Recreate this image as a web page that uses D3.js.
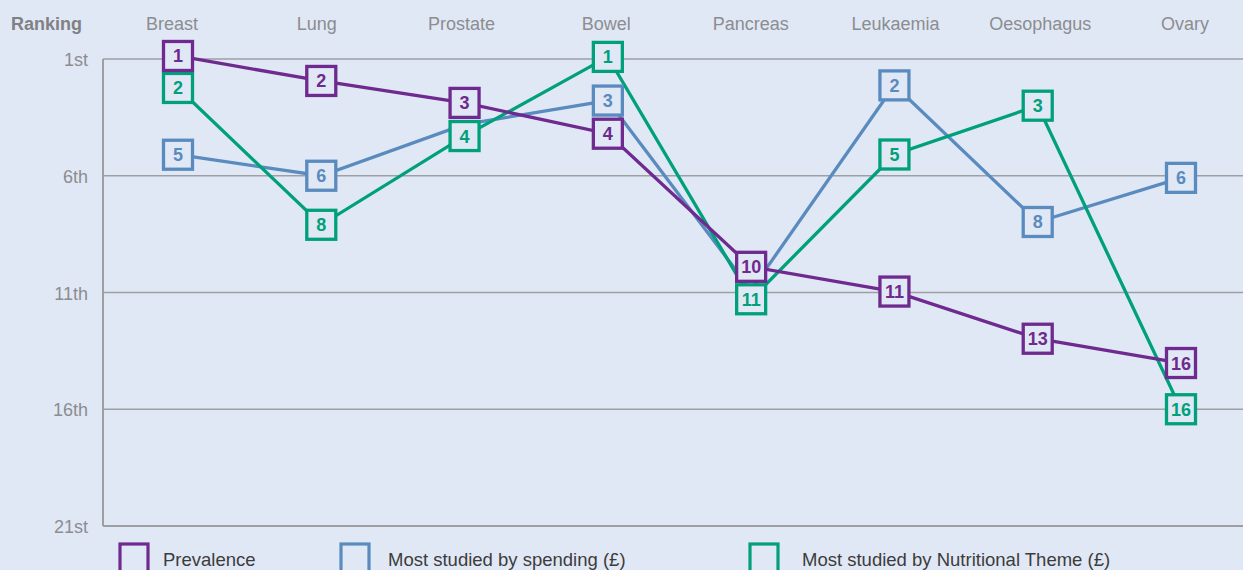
<!DOCTYPE html>
<html>
<head>
<meta charset="utf-8">
<script src="https://cdn.jsdelivr.net/npm/d3@7"></script>
<style>
  html, body { margin: 0; padding: 0; background: #e1e8f5; }
  svg { display: block; }
</style>
</head>
<body>
<svg id="chart" width="1243" height="570"></svg>
<script>
// ---- data ----
const categories = ["Breast", "Lung", "Prostate", "Bowel", "Pancreas", "Leukaemia", "Oesophagus", "Ovary"];
const rankTicks = [1, 6, 11, 16, 21];
const rankTickLabels = ["1st", "6th", "11th", "16th", "21st"];

const seriesNames = ["Prevalence", "Most studied by spending (£)", "Most studied by Nutritional Theme (£)"];

// plotted position and printed rank label
// (null label = marker hidden behind another series' marker in the original)
const prevalencePos = [0.87, 1.94, 2.88, 4.2, 9.9, 10.96, 12.98, 14.02];
const prevalenceRank = [1, 2, 3, 4, 10, 11, 13, 16];
const spendingPos = [5.1, 6.0, 3.8, 2.78, 10.9, 2.13, 7.98, 6.09];
const spendingRank = [5, 6, null, 3, null, 2, 8, 6];
const nutritionPos = [2.24, 8.1, 4.3, 0.91, 11.29, 5.09, 3.0, 16.0];
const nutritionRank = [2, 8, 4, 1, 11, 5, 3, 16];

// ---- styles ----
const bg = "#e1e8f5";
const colors = { prevalence: "#6e2a8e", spending: "#5a8bbf", nutrition: "#00a07b" };
const font = "Liberation Sans, Arial, sans-serif";

const svg = d3.select("#chart");
svg.append("rect").attr("width", 1243).attr("height", 570).attr("fill", bg);

const x = d3.scalePoint().domain(categories).range([178, 1181]);
const xLabel = d3.scalePoint().domain(categories).range([172, 1185]);
const y = d3.scaleLinear().domain([1, 21]).range([59, 526]);
const axisLeft = 103, axisRight = 1243;

// gridlines
svg.append("g").selectAll("line").data(rankTicks).join("line")
  .attr("x1", axisLeft).attr("x2", axisRight)
  .attr("y1", d => y(d)).attr("y2", d => y(d))
  .attr("stroke", "#9d9fa3")
  .attr("stroke-width", d => d === 21 ? 2 : 1.5);

// y axis line
svg.append("line")
  .attr("x1", axisLeft).attr("x2", axisLeft)
  .attr("y1", y(1)).attr("y2", y(21))
  .attr("stroke", "#9d9fa3").attr("stroke-width", 2);

// y tick labels
svg.append("g").selectAll("text").data(rankTicks).join("text")
  .attr("x", 88).attr("y", d => y(d) + 7)
  .attr("text-anchor", "end")
  .attr("font-family", font)
  .attr("font-size", 18)
  .attr("fill", "#8b8d90")
  .text((d, i) => rankTickLabels[i]);

// "Ranking" header
svg.append("text")
  .attr("x", 11).attr("y", 30)
  .attr("font-family", font)
  .attr("font-size", 18).attr("font-weight", "bold")
  .attr("fill", "#7f8184")
  .text("Ranking");

// category labels
svg.append("g").selectAll("text").data(categories).join("text")
  .attr("x", d => xLabel(d)).attr("y", 30)
  .attr("text-anchor", "middle")
  .attr("font-family", font)
  .attr("font-size", 18)
  .attr("fill", "#8b8d90")
  .text(d => d);

const series = [
  { key: "spending", pos: spendingPos, rank: spendingRank },
  { key: "nutrition", pos: nutritionPos, rank: nutritionRank },
  { key: "prevalence", pos: prevalencePos, rank: prevalenceRank }
];

const line = d3.line().x(d => x(d.cat)).y(d => y(d.pos));

// lines
series.forEach(s => {
  const pts = categories.map((c, i) => ({ cat: c, pos: s.pos[i], rank: s.rank[i] }));
  svg.append("path")
    .datum(pts)
    .attr("d", line)
    .attr("fill", "none")
    .attr("stroke", colors[s.key])
    .attr("stroke-width", 3.3)
    .attr("stroke-linejoin", "miter");
});

// markers
const box = 29;
series.forEach(s => {
  const pts = categories.map((c, i) => ({ cat: c, pos: s.pos[i], rank: s.rank[i] }))
    .filter(d => d.rank !== null);
  const g = svg.append("g").selectAll("g").data(pts).join("g")
    .attr("transform", d => `translate(${x(d.cat)},${y(d.pos)})`);
  g.append("rect")
    .attr("x", -box / 2).attr("y", -box / 2)
    .attr("width", box).attr("height", box)
    .attr("fill", bg)
    .attr("stroke", colors[s.key])
    .attr("stroke-width", 3.3);
  g.append("text")
    .attr("text-anchor", "middle")
    .attr("y", 6.5)
    .attr("font-family", font)
    .attr("font-size", 18).attr("font-weight", "bold")
    .attr("fill", colors[s.key])
    .text(d => d.rank);
});

// legend
const legendKeys = ["prevalence", "spending", "nutrition"];
const legendX = [120, 341, 750];
const legendTextX = [163, 388, 802];
const lg = svg.append("g").selectAll("g").data(legendKeys).join("g");
lg.append("rect")
  .attr("x", (d, i) => legendX[i]).attr("y", 544)
  .attr("width", 28).attr("height", 40)
  .attr("fill", "none")
  .attr("stroke", d => colors[d])
  .attr("stroke-width", 3.2);
lg.append("text")
  .attr("x", (d, i) => legendTextX[i]).attr("y", 566)
  .attr("font-family", font)
  .attr("font-size", 18.5)
  .attr("fill", "#3c3c3c")
  .text((d, i) => seriesNames[i]);
</script>
</body>
</html>
